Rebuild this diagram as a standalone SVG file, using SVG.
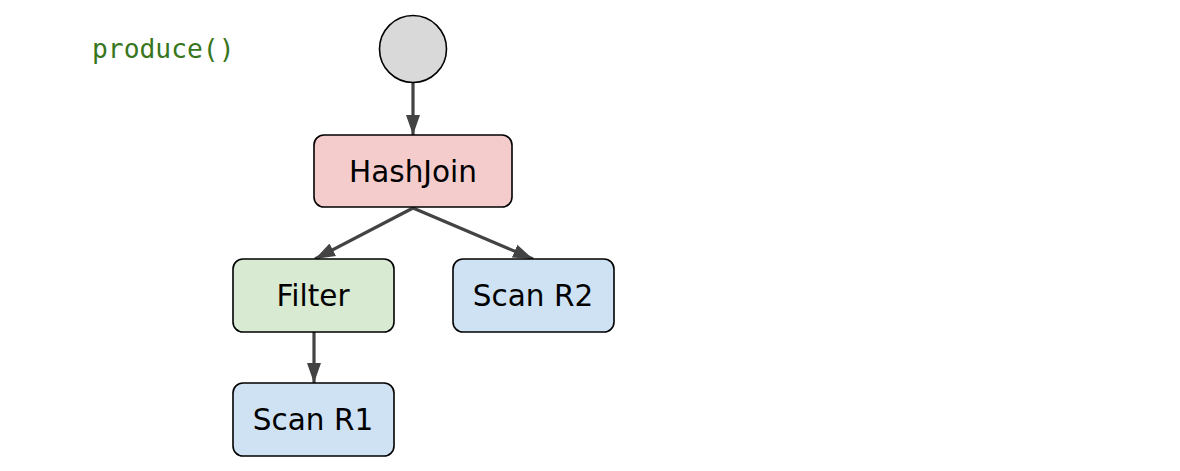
<svg xmlns="http://www.w3.org/2000/svg" width="1180" height="471" viewBox="0 0 1180 471">
<defs>
<style>
.node{stroke:#000;stroke-width:1.6}
.lbl{font-family:"DejaVu Sans",Verdana,sans-serif;font-size:29.5px;fill:#000;text-anchor:middle}
.code{font-family:"DejaVu Sans Mono","Liberation Mono",monospace;font-size:26.3px;fill:#38761d}
.edge{stroke:#434343;stroke-width:3.2;fill:none}
</style>
<marker id="arr" markerUnits="userSpaceOnUse" markerWidth="21" markerHeight="16" refX="20" refY="8" orient="auto">
<path d="M0,1 L20,8 L0,15 Z" fill="#434343"/>
</marker>
</defs>
<rect width="1180" height="471" fill="#fff"/>
<text class="code" x="92" y="58">produce()</text>
<g id="connectors">
<line class="edge" x1="413" y1="83" x2="413" y2="135" marker-end="url(#arr)"/>
<line class="edge" x1="413" y1="208" x2="315" y2="259" marker-end="url(#arr)"/>
<line class="edge" x1="413" y1="208" x2="533" y2="259" marker-end="url(#arr)"/>
<line class="edge" x1="314" y1="332" x2="314" y2="383" marker-end="url(#arr)"/>
</g>
<g id="start"><circle class="node" cx="413" cy="49" r="33.5" fill="#d9d9d9"/></g>
<g id="hashjoin"><rect class="node" x="314" y="135" width="198" height="72" rx="10" fill="#f4cccc"/><text class="lbl" x="413" y="182">HashJoin</text></g>
<g id="filter"><rect class="node" x="233" y="259" width="161" height="73" rx="10" fill="#d9ead3"/><text class="lbl" x="313" y="306">Filter</text></g>
<g id="scanr2"><rect class="node" x="453" y="259" width="161" height="73" rx="10" fill="#cfe2f3"/><text class="lbl" x="533" y="306">Scan R2</text></g>
<g id="scanr1"><rect class="node" x="233" y="383" width="161" height="73" rx="10" fill="#cfe2f3"/><text class="lbl" x="313" y="430">Scan R1</text></g>
</svg>
